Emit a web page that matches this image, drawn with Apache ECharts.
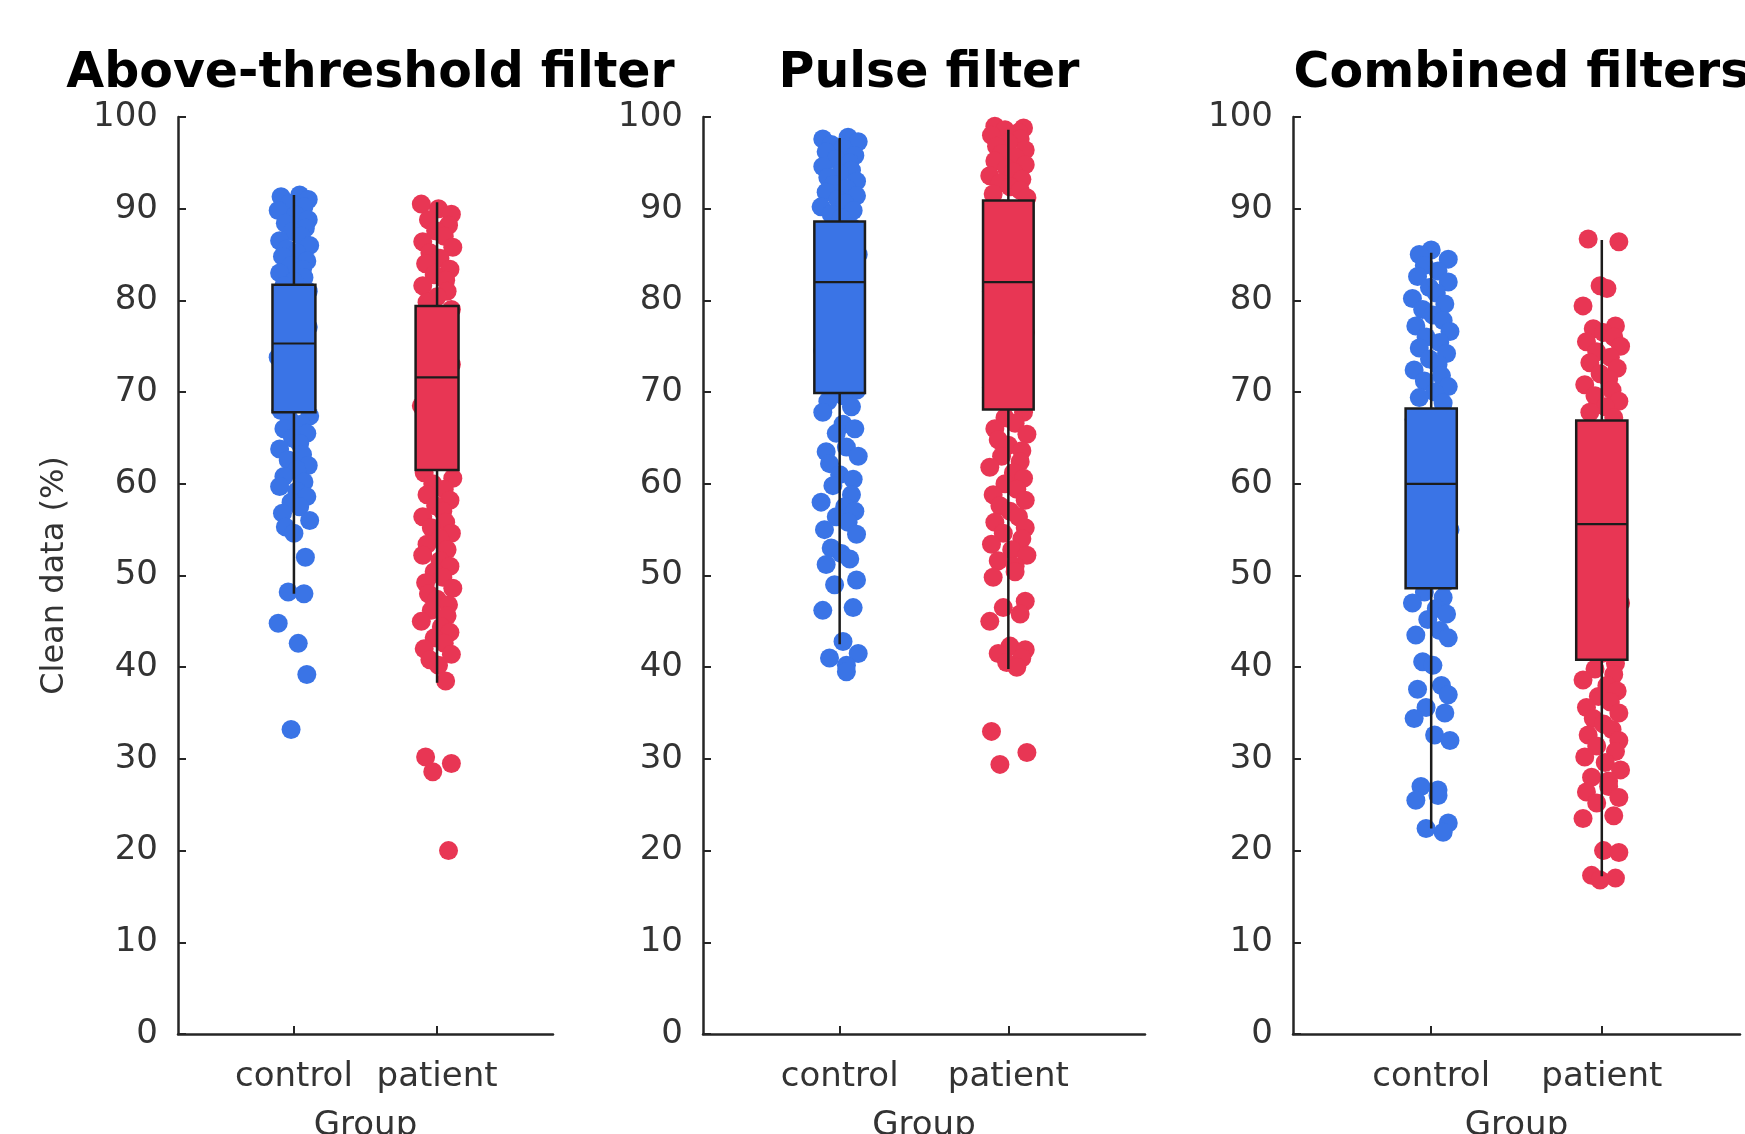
<!DOCTYPE html>
<html>
<head>
<meta charset="utf-8">
<script src="https://cdn.jsdelivr.net/npm/echarts@6/dist/echarts.min.js"></script>
<style>
  html, body { margin: 0; padding: 0; background: #fff; }
  #main { width: 1745px; height: 1134px; }
</style>
</head>
<body>
<div id="main"></div>
<script>
// categories and titles
const groups = ['control', 'patient'];
const panelTitles = ['Above-threshold filter', 'Pulse filter', 'Combined filters'];

// box stats: [lower whisker, Q1, median, Q3, upper whisker]
const aboveBoxControl = [48.0, 67.8, 75.3, 81.7, 91.5];
const aboveBoxPatient = [38.3, 61.5, 71.6, 79.4, 90.7];
const pulseBoxControl = [42.5, 69.9, 82.0, 88.6, 97.7];
const pulseBoxPatient = [39.8, 68.1, 82.0, 90.9, 98.6];
const combBoxControl = [22.4, 48.6, 60.0, 68.2, 85.2];
const combBoxPatient = [17.2, 40.8, 55.6, 66.9, 86.6];

// individual subjects (clean data %)
const aboveControl = [91.5, 91.3, 91.0, 90.6, 90.2, 89.8, 89.3, 88.8, 88.4, 87.9, 87.5, 87.0, 86.5, 86.0, 85.6,
  85.2, 84.8, 84.3, 83.8, 83.4, 83.0, 82.5, 82.1, 81.6, 81.0, 80.2, 79.2, 78.3, 77.1, 76.0, 75.0, 73.8, 72.5,
  71.4, 70.2, 69.0, 68.0, 67.4, 67.0, 66.5, 66.0, 65.5, 65.0, 64.4, 63.8, 63.2, 62.6, 62.0, 61.5, 60.8, 60.2,
  59.7, 59.2, 58.6, 58.0, 57.5, 56.8, 56.0, 55.3, 54.6, 52.0, 48.2, 48.0, 44.8, 42.6, 39.2, 33.2];
const abovePatient = [90.5, 90.0, 89.4, 88.8, 88.2, 87.6, 87.0, 86.4, 85.8, 85.2, 84.6, 84.0, 83.4, 82.8, 82.2,
  81.6, 81.0, 80.4, 79.8, 79.0, 77.5, 76.0, 74.5, 73.0, 71.5, 70.0, 68.5, 67.0, 65.5, 64.0, 62.5, 61.2, 60.6,
  60.0, 59.4, 58.8, 58.2, 57.6, 57.0, 56.4, 55.8, 55.2, 54.6, 54.0, 53.4, 52.8, 52.2, 51.6, 51.0, 50.4, 49.8,
  49.2, 48.6, 48.0, 47.4, 46.8, 46.2, 45.6, 45.0, 44.4, 43.8, 43.2, 42.6, 42.0, 41.4, 40.8, 40.2, 38.5, 30.2,
  29.5, 28.6, 20.0];
const pulseControl = [97.8, 97.6, 97.3, 97.0, 96.6, 96.2, 95.8, 95.4, 95.0, 94.6, 94.2, 93.8, 93.4, 93.0, 92.6,
  92.2, 91.8, 91.4, 91.0, 90.6, 90.2, 89.8, 89.4, 89.0, 88.0, 86.5, 85.0, 83.5, 82.0, 80.5, 79.0, 77.5, 76.0,
  74.5, 73.0, 71.5, 70.2, 69.6, 69.0, 68.4, 67.8, 66.5, 66.0, 65.5, 64.0, 63.5, 63.0, 62.2, 61.0, 60.5, 59.8,
  58.8, 58.0, 57.5, 57.0, 56.4, 55.8, 55.0, 54.5, 53.0, 52.4, 51.8, 51.2, 49.5, 49.0, 46.5, 46.2, 42.8, 41.5,
  41.0, 40.2, 39.5];
const pulsePatient = [99.0, 98.8, 98.6, 98.3, 98.0, 97.6, 97.2, 96.8, 96.4, 96.0, 95.6, 95.2, 94.8, 94.4, 94.0,
  93.6, 93.2, 92.8, 92.4, 92.0, 91.6, 91.2, 90.0, 88.5, 87.0, 85.5, 84.0, 82.5, 81.0, 79.5, 78.0, 76.5, 75.0,
  73.5, 72.0, 70.5, 69.0, 67.8, 67.2, 66.6, 66.0, 65.4, 64.8, 64.2, 63.6, 63.0, 62.4, 61.8, 61.2, 60.6, 60.0,
  59.4, 58.8, 58.2, 57.6, 57.0, 56.4, 55.8, 55.2, 54.6, 54.0, 53.4, 52.8, 52.2, 51.6, 51.0, 50.4, 49.8, 47.2,
  46.5, 45.8, 45.0, 42.3, 41.9, 41.5, 41.0, 40.5, 40.0, 33.0, 30.7, 29.4];
const combControl = [85.5, 85.0, 84.5, 83.8, 83.2, 82.6, 82.0, 81.4, 80.8, 80.2, 79.6, 79.0, 78.4, 77.8, 77.2,
  76.6, 76.0, 75.4, 74.8, 74.2, 73.6, 73.0, 72.4, 71.8, 71.2, 70.6, 70.0, 69.4, 68.8, 67.0, 65.0, 63.0, 61.0,
  59.0, 57.0, 55.0, 53.0, 51.0, 49.2, 48.2, 47.6, 47.0, 46.4, 45.8, 45.2, 44.0, 43.5, 43.2, 40.6, 40.2, 38.0,
  37.6, 37.0, 35.6, 35.0, 34.4, 32.6, 32.0, 27.0, 26.6, 26.0, 25.5, 23.0, 22.4, 22.0];
const combPatient = [86.7, 86.4, 81.6, 81.3, 79.4, 77.2, 76.9, 76.5, 76.0, 75.5, 75.0, 74.4, 73.8, 73.2, 72.6,
  72.0, 71.4, 70.8, 70.2, 69.6, 69.0, 68.4, 67.8, 67.2, 65.0, 62.0, 59.0, 56.0, 53.0, 50.0, 47.0, 44.0, 41.5,
  40.4, 39.8, 39.2, 38.6, 38.0, 37.4, 36.8, 36.2, 35.6, 35.0, 34.4, 33.8, 33.2, 32.6, 32.0, 31.4, 30.8, 30.2,
  29.6, 28.8, 28.0, 27.6, 27.0, 26.4, 25.8, 25.2, 23.8, 23.5, 20.0, 19.8, 17.3, 17.0, 16.8];

// horizontal jitter of the dots (in group units)
const jitter = [0.04, -0.09, 0.10, -0.03, 0.07, -0.11, 0.01, 0.10, -0.06, 0.08, -0.01, 0.05, -0.10, 0.11, -0.05,
  0.02, -0.08, 0.09, -0.02, 0.06, -0.10, 0.07, 0.00, -0.07, 0.10, -0.04, 0.04, -0.08, 0.10, -0.01, 0.03, -0.11,
  0.08, -0.05, 0.01, 0.07, -0.09, 0.11, -0.03, 0.05, -0.07, 0.09, -0.01, 0.04, -0.10, 0.06, -0.04, 0.10, 0.02,
  -0.07, 0.07, -0.10, 0.02, 0.09, -0.02, 0.04, -0.08, 0.11, -0.06, 0.00, 0.08, -0.04, 0.07, -0.11, 0.03, 0.09,
  -0.02, 0.05, -0.09, 0.10, -0.05, 0.01, 0.06, -0.08, 0.10, -0.03, 0.08, -0.10, 0.02, 0.11, -0.06, 0.04];

const panels = [
  { box: [aboveBoxControl, aboveBoxPatient], pts: [aboveControl, abovePatient] },
  { box: [pulseBoxControl, pulseBoxPatient], pts: [pulseControl, pulsePatient] },
  { box: [combBoxControl, combBoxPatient], pts: [combControl, combPatient] }
];

const colors = ['#3A74E6', '#E83654'];
const edge = '#1c1c1c';
const axisColor = '#262626';
const labelColor = '#333';
const font = 'DejaVu Sans';
const boxHalf = 0.15;

const grids = [
  { left: 178, top: 117, width: 375, height: 917, outerBoundsMode: 'none', containLabel: false },
  { left: 703, top: 117, width: 442, height: 917, outerBoundsMode: 'none', containLabel: false },
  { left: 1293, top: 117, width: 447, height: 917, outerBoundsMode: 'none', containLabel: false }
];

function renderBox(params, api) {
  const x = api.value(0);
  const lo = api.value(1), q1 = api.value(2), med = api.value(3), q3 = api.value(4), hi = api.value(5);
  const color = colors[api.value(6)];
  const pLo = api.coord([x, lo]);
  const pHi = api.coord([x, hi]);
  const tl = api.coord([x - boxHalf, q3]);
  const br = api.coord([x + boxHalf, q1]);
  const mL = api.coord([x - boxHalf, med]);
  const mR = api.coord([x + boxHalf, med]);
  return {
    type: 'group',
    children: [
      { type: 'line', shape: { x1: pLo[0], y1: pLo[1], x2: pHi[0], y2: pHi[1] }, style: { stroke: edge, lineWidth: 2.5 } },
      { type: 'rect', shape: { x: tl[0], y: tl[1], width: br[0] - tl[0], height: br[1] - tl[1] },
        style: { fill: color, stroke: edge, lineWidth: 2.5 } },
      { type: 'line', shape: { x1: mL[0], y1: mL[1], x2: mR[0], y2: mR[1] }, style: { stroke: edge, lineWidth: 2.2 } }
    ]
  };
}

const option = {
  backgroundColor: '#fff',
  animation: false,
  title: panelTitles.map((t, i) => ({
    text: t,
    left: grids[i].left + grids[i].width / 2,
    top: 45,
    textAlign: 'center',
    textStyle: { fontFamily: font, fontSize: 49, fontWeight: 'bold', color: '#000' }
  })),
  grid: grids,
  xAxis: grids.map((g, i) => ({
    type: 'value',
    gridIndex: i,
    min: 0.19,
    max: 2.81,
    name: 'Group',
    nameLocation: 'middle',
    nameGap: 75,
    nameTextStyle: { fontFamily: font, fontSize: 34, color: labelColor },
    axisLine: { show: true, onZero: false, lineStyle: { color: axisColor, width: 2.5 } },
    axisTick: { show: true, inside: true, length: 8, customValues: [1, 2], lineStyle: { color: axisColor, width: 2 } },
    axisLabel: {
      customValues: [1, 2],
      margin: 26,
      fontFamily: font, fontSize: 34, color: labelColor,
      formatter: v => groups[Math.round(v) - 1]
    },
    splitLine: { show: false }
  })),
  yAxis: grids.map((g, i) => ({
    type: 'value',
    gridIndex: i,
    min: 0,
    max: 100,
    interval: 10,
    name: i === 0 ? 'Clean data (%)' : '',
    nameLocation: 'middle',
    nameGap: 107,
    nameTextStyle: { fontFamily: font, fontSize: 32, color: labelColor },
    axisLine: { show: true, onZero: false, lineStyle: { color: axisColor, width: 2.5 } },
    axisTick: { show: true, inside: true, length: 8, lineStyle: { color: axisColor, width: 2 } },
    axisLabel: { margin: 20, fontFamily: font, fontSize: 34, color: labelColor },
    splitLine: { show: false }
  })),
  series: []
};

panels.forEach((p, i) => {
  p.pts.forEach((vals, g) => {
    option.series.push({
      type: 'scatter',
      xAxisIndex: i,
      yAxisIndex: i,
      symbolSize: 19,
      z: 2,
      itemStyle: { color: colors[g], opacity: 1 },
      data: vals.map((v, k) => [g + 1 + jitter[(k + i * 11 + g * 5) % jitter.length], v])
    });
  });
  option.series.push({
    type: 'custom',
    xAxisIndex: i,
    yAxisIndex: i,
    z: 3,
    renderItem: renderBox,
    encode: { x: 0, y: [1, 2, 3, 4, 5] },
    data: p.box.map((b, g) => [g + 1, ...b, g])
  });
});

const chart = echarts.init(document.getElementById('main'));
chart.setOption(option);
</script>
</body>
</html>
